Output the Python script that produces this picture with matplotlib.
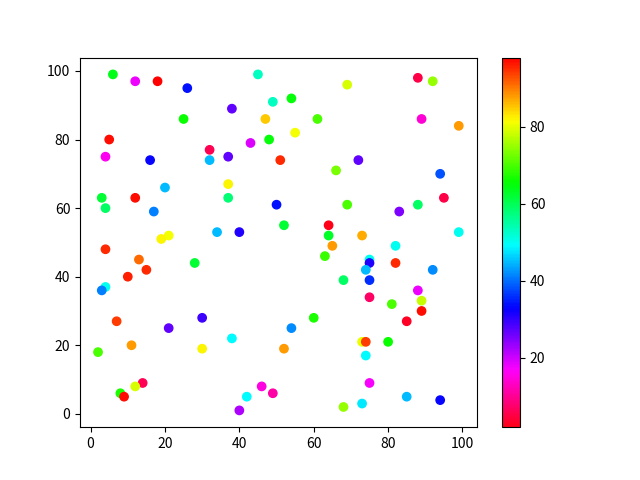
import matplotlib
matplotlib.use("Agg")
import matplotlib.pyplot as plt

plt.rcParams['font.family'] = ['Noto Sans CJK SC', 'DejaVu Sans']

x = [6, 12, 18, 5, 4, 16, 20, 3, 12, 4, 17, 21, 19, 4, 13, 15, 10, 4, 3, 7,
     21, 11, 2, 14, 12, 8, 9, 45, 26, 38, 25, 47, 43, 32, 32, 37, 37, 37, 34, 40,
     28, 30, 38, 30, 46, 49, 42, 40, 69, 49, 54, 61, 55, 48, 51, 72, 66, 50, 69, 52,
     64, 64, 73, 65, 63, 75, 75, 74, 68, 75, 75, 60, 54, 52, 73, 74, 74, 75, 68, 73,
     88, 92, 89, 99, 94, 95, 88, 83, 99, 82, 82, 92, 88, 89, 81, 89, 85, 80, 85, 94]
y = [99, 97, 97, 80, 75, 74, 66, 63, 63, 60, 59, 52, 51, 48, 45, 42, 40, 37, 36, 27,
     25, 20, 18, 9, 8, 6, 5, 99, 95, 89, 86, 86, 79, 77, 74, 75, 67, 63, 53, 53,
     44, 28, 22, 19, 8, 6, 5, 1, 96, 91, 92, 86, 82, 80, 74, 74, 71, 61, 61, 55,
     55, 52, 52, 49, 46, 45, 44, 42, 39, 39, 34, 28, 25, 19, 21, 21, 17, 9, 2, 3,
     98, 97, 86, 84, 70, 63, 61, 59, 53, 49, 44, 42, 36, 33, 32, 30, 27, 21, 5, 4]
c = [64, 18, 98, 97, 16, 33, 45, 62, 97, 59, 41, 81, 82, 95, 91, 95, 96, 50, 41, 94,
     27, 88, 70, 6, 79, 67, 97, 53, 34, 27, 66, 85, 19, 6, 45, 27, 82, 58, 45, 31,
     62, 29, 49, 82, 15, 11, 49, 22, 79, 53, 65, 70, 81, 65, 95, 27, 73, 34, 70, 62,
     2, 63, 87, 88, 69, 50, 31, 45, 59, 36, 7, 67, 42, 88, 80, 94, 49, 17, 75, 48,
     5, 75, 14, 88, 38, 5, 59, 25, 50, 50, 95, 42, 18, 78, 70, 97, 3, 66, 45, 33]

fig, ax = plt.subplots(figsize=(6.4, 4.8), dpi=100)
sc = ax.scatter(x, y, c=c, cmap="hsv_r")
fig.colorbar(sc, ax=ax)
fig.savefig("out.png")
